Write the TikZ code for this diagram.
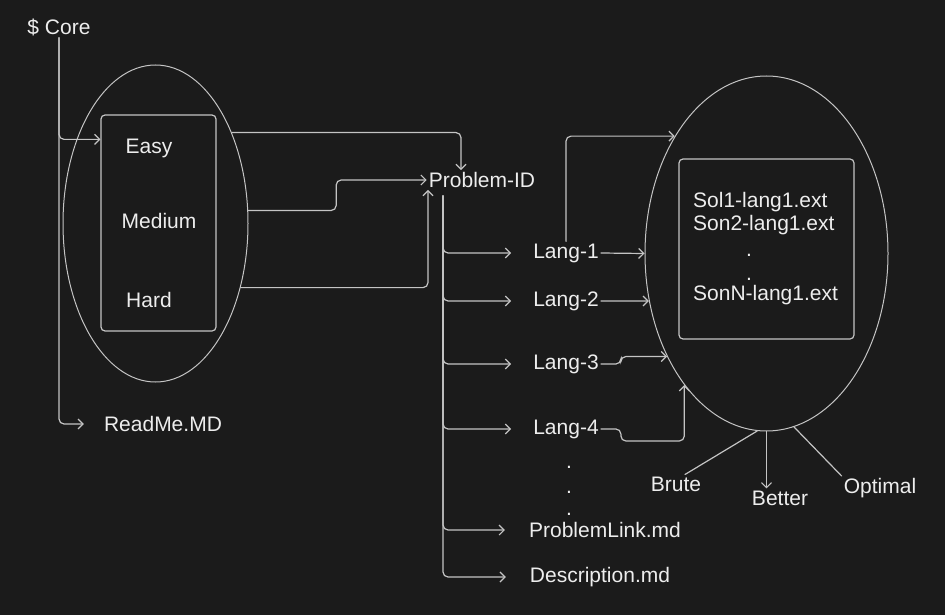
\documentclass[tikz,border=0pt]{standalone}
\usepackage{fontspec}
\setmainfont{Liberation Sans}
\usetikzlibrary{arrows.meta,shapes.geometric}
\definecolor{bgdark}{HTML}{1B1B1B}
\definecolor{inkline}{HTML}{C4C4C4}
\definecolor{inktext}{HTML}{EDEDED}
\tikzset{
  lbl/.style={text=inktext,inner sep=2pt},
  wire/.style={draw=inkline,line width=1.2pt,rounded corners=5pt,line cap=round},
  arr/.style={wire,-{Straight Barb[length=5pt,width=10pt]}},
  oval/.style={draw=inkline,line width=1pt,ellipse,inner sep=0pt},
  frame/.style={draw=inkline,line width=1.2pt,rounded corners=4pt,inner sep=0pt},
}

\begin{document}
\begin{tikzpicture}[x=1pt,y=-1pt,font=\fontsize{21}{25}\selectfont]
    \fill[bgdark] (0,0) rectangle (945,615);
    \useasboundingbox (0,0) rectangle (945,615);

    % levels
    \node[lbl] (core) at (59,27) {\$ Core};
    \node[oval,minimum width=185pt,minimum height=317pt] (lvl) at (155.5,223.5) {};
    \node[frame,minimum width=115pt,minimum height=216pt] (lvlbox) at (158.5,223) {};
    \node[lbl] (easy) at (149,148) {Easy};
    \node[lbl] (medium) at (159,221) {Medium};
    \node[lbl] (hard) at (149,300) {Hard};
    \node[lbl] (readme) at (163,424) {ReadMe.MD};

    \draw[arr] (core.south) |- ([yshift=-25pt]lvlbox.north west);
    \draw[arr] (core.south) |- ([xshift=-18pt]readme.west);

    % problem folder
    \node[lbl] (pid) at (482,180) {Problem-ID};
    \draw[arr] (lvl.50) -| ([xshift=-21pt]pid.north);
    \draw[arr] (lvl.8) -- ++(88,0) |- (pid.west);
    \draw[arr] (lvl.-37) -| ([xshift=-54pt]pid.south);

    \node[lbl] (l1) at (566,253) {Lang-1};
    \node[lbl] (l2) at (566,301) {Lang-2};
    \node[lbl] (l3) at (566,364) {Lang-3};
    \node[lbl] (l4) at (566,429) {Lang-4};
    \node[lbl,anchor=base] (dotA) at (569,468) {.};
    \node[lbl,anchor=base] (dotB) at (569,493) {.};
    \node[lbl,anchor=base] (dotC) at (569,515) {.};
    \node[lbl] (plink) at (605,530) {ProblemLink.md};
    \node[lbl] (desc) at (600,577) {Description.md};

    \coordinate (trunk) at (443,196);
    \foreach \t in {l1,l2,l3,l4}
        \draw[arr] (trunk) |- ([xshift=-20pt]\t.west);
    \draw[arr] (trunk) |- ([xshift=-22pt]plink.west);
    \draw[arr] (trunk) |- ([xshift=-22pt]desc.west);

    % solutions
    \node[oval,minimum width=243pt,minimum height=355pt] (sol) at (766.5,253.5) {};
    \node[frame,minimum width=175pt,minimum height=180pt] (solbox) at (766.5,249) {};
    \node[lbl,anchor=west] (sol1) at (691,202) {Sol1-lang1.ext};
    \node[lbl,anchor=west] (sol2) at (691,225) {Son2-lang1.ext};
    \node[lbl,anchor=base] (solA) at (749,256) {.};
    \node[lbl,anchor=base] (solB) at (749,280) {.};
    \node[lbl,anchor=west] (solN) at (691,295) {SonN-lang1.ext};

    \draw[arr] (l1.north) |- (sol.128.4);
    \draw[arr] (l1.east) -- (sol.180);
    \draw[arr] (l2.east) -- (sol.202.6);
    \draw[arr] (l3.east) -- ++(20,0) |- (sol.226.7);
    \draw[arr] (l4.east) -- ++(20,0) -- ++(0,12) -| (sol.238.6);

    \node[lbl] (brute) at (676,484) {Brute};
    \node[lbl] (better) at (780,498) {Better};
    \node[lbl] (optimal) at (880,488) {Optimal};
    \draw[wire] (sol.267) -- ([xshift=9pt]brute.north);
    \draw[arr] (sol.270) -- (sol.270 |- better.north);
    \draw[wire] (sol.279.3) -- (optimal.north west);
\end{tikzpicture}
\end{document}
